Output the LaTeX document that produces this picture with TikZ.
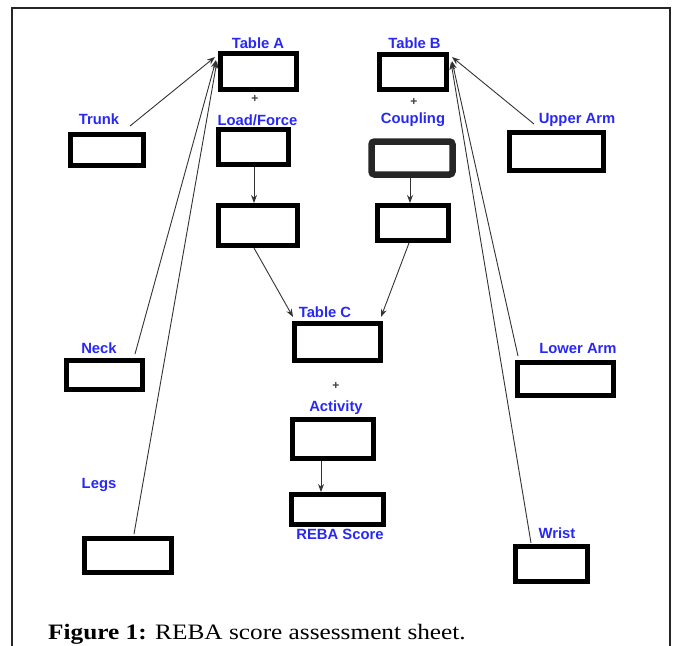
\documentclass[tikz,border=0pt]{standalone}
\usepackage{fontspec}
\setmainfont{Liberation Serif}
\newfontfamily\labfont{Liberation Sans}
\newfontfamily\capfont[FakeStretch=1.15]{Liberation Serif}
\usetikzlibrary{arrows.meta,calc}
\definecolor{labblue}{RGB}{40,40,245}
\begin{document}
\begin{tikzpicture}[x=1pt,y=-1pt,
  box/.style={draw=black, line width=5pt, inner sep=0pt, fill=white},
  lab/.style={text=labblue, font=\labfont\bfseries\fontsize{14.8}{16}\selectfont, inner sep=0pt},
  plus/.style={font=\labfont\bfseries\fontsize{12}{12}\selectfont, text=black!75, inner sep=0pt},
  conn/.style={line width=0.9pt, draw=black!80, -{Stealth[length=8pt,width=6pt]}}
]
\useasboundingbox (0,0) rectangle (681,646);
\draw[line width=1.2pt, black!85] (12,650) -- (12,8) -- (670,8) -- (670,650);

% boxes
\node[box, minimum width=76pt, minimum height=36pt] (ta) at (258.5,71.5) {};
\node[box, minimum width=67pt, minimum height=35pt] (tb) at (413,72) {};
\node[box, minimum width=70pt, minimum height=35pt] (load1) at (253.5,147) {};
\node[box, line width=6.5pt, draw=black!85, rounded corners=3pt, minimum width=81pt, minimum height=33pt] (coup1) at (412,158) {};
\node[box, minimum width=79pt, minimum height=40pt] (load2) at (258,225.5) {};
\node[box, minimum width=71pt, minimum height=35pt] (coup2) at (413,223) {};
\node[box, minimum width=73pt, minimum height=31pt] (trunk) at (107,150) {};
\node[box, minimum width=94pt, minimum height=38pt] (uarm) at (556.5,151.5) {};
\node[box, minimum width=86pt, minimum height=37pt] (tc) at (337.5,342) {};
\node[box, minimum width=81pt, minimum height=39pt] (act) at (333,439) {};
\node[box, minimum width=92pt, minimum height=30pt] (reba) at (337.5,509.5) {};
\node[box, minimum width=76pt, minimum height=29pt] (neck) at (104.5,375) {};
\node[box, minimum width=96pt, minimum height=33pt] (larm) at (565.5,379) {};
\node[box, minimum width=87pt, minimum height=34pt] (legs) at (128,555.5) {};
\node[box, minimum width=72pt, minimum height=35pt] (wrist) at (551.5,564) {};

% labels
\node[lab] (lta) at (258,43) {Table A};
\node[lab] (ltb) at (414.5,43) {Table B};
\node[plus] (pa) at (255,99) {+};
\node[plus] (pb) at (414,102) {+};
\node[lab] (lload) at (257.5,120) {Load/Force};
\node[lab] (lcoup) at (413,120) {Coupling};
\node[lab] (ltrunk) at (99,119) {Trunk};
\node[lab] (luarm) at (577,120) {Upper Arm};
\node[lab] (ltc) at (325,312) {Table C};
\node[plus] (pc) at (336,386) {+};
\node[lab] (lact) at (336,408) {Activity};
\node[lab] (lreba) at (340,534) {REBA Score};
\node[lab] (lneck) at (99,348) {Neck};
\node[lab] (llarm) at (578,348) {Lower Arm};
\node[lab] (llegs) at (99,485) {Legs};
\node[lab] (lwrist) at (557,533) {Wrist};

% connectors to Table A
\draw[conn] ($(trunk.north east)+(-16,-6)$) -- ($(ta.north west)+(-3,6)$);
\draw[conn] ($(neck.north east)+(-10,-4)$) -- ($(ta.north west)+(-2,9)$);
\draw[conn] ($(legs.north west)+(52,-2)$) -- ($(ta.north west)+(-1,10)$);
% connectors to Table B
\draw[conn] ($(uarm.north west)+(27,-6)$) -- ($(tb.north east)+(3,5)$);
\draw[conn] ($(larm.north west)+(3,-4)$) -- ($(tb.north east)+(3,9)$);
\draw[conn] ($(wrist.north west)+(18,-1)$) -- ($(tb.north east)+(2,10)$);
% vertical chains
\draw[conn] ($(load1.south)+(0.5,0)$) -- ($(load1.south |- load2.north)+(0.5,0)$);
\draw[conn] ($(coup1.south)+(-2,0)$) -- ($(coup1.south |- coup2.north)+(-2,0)$);
\draw[conn] ($(load2.south west)+(38,0)$) -- ($(tc.north west)+(1,-4)$);
\draw[conn] ($(coup2.south west)+(34,0)$) -- ($(tc.north east)+(-2,-4)$);
\draw[conn] ($(act.south)+(-12,0)$) -- ($(act.south |- reba.north)+(-12,0)$);

% caption
\node[anchor=base west, inner sep=0pt, font=\capfont\fontsize{22}{24}\selectfont] (cap) at (48,639) {\textbf{Figure 1:} REBA score assessment sheet.};
\end{tikzpicture}
\end{document}
